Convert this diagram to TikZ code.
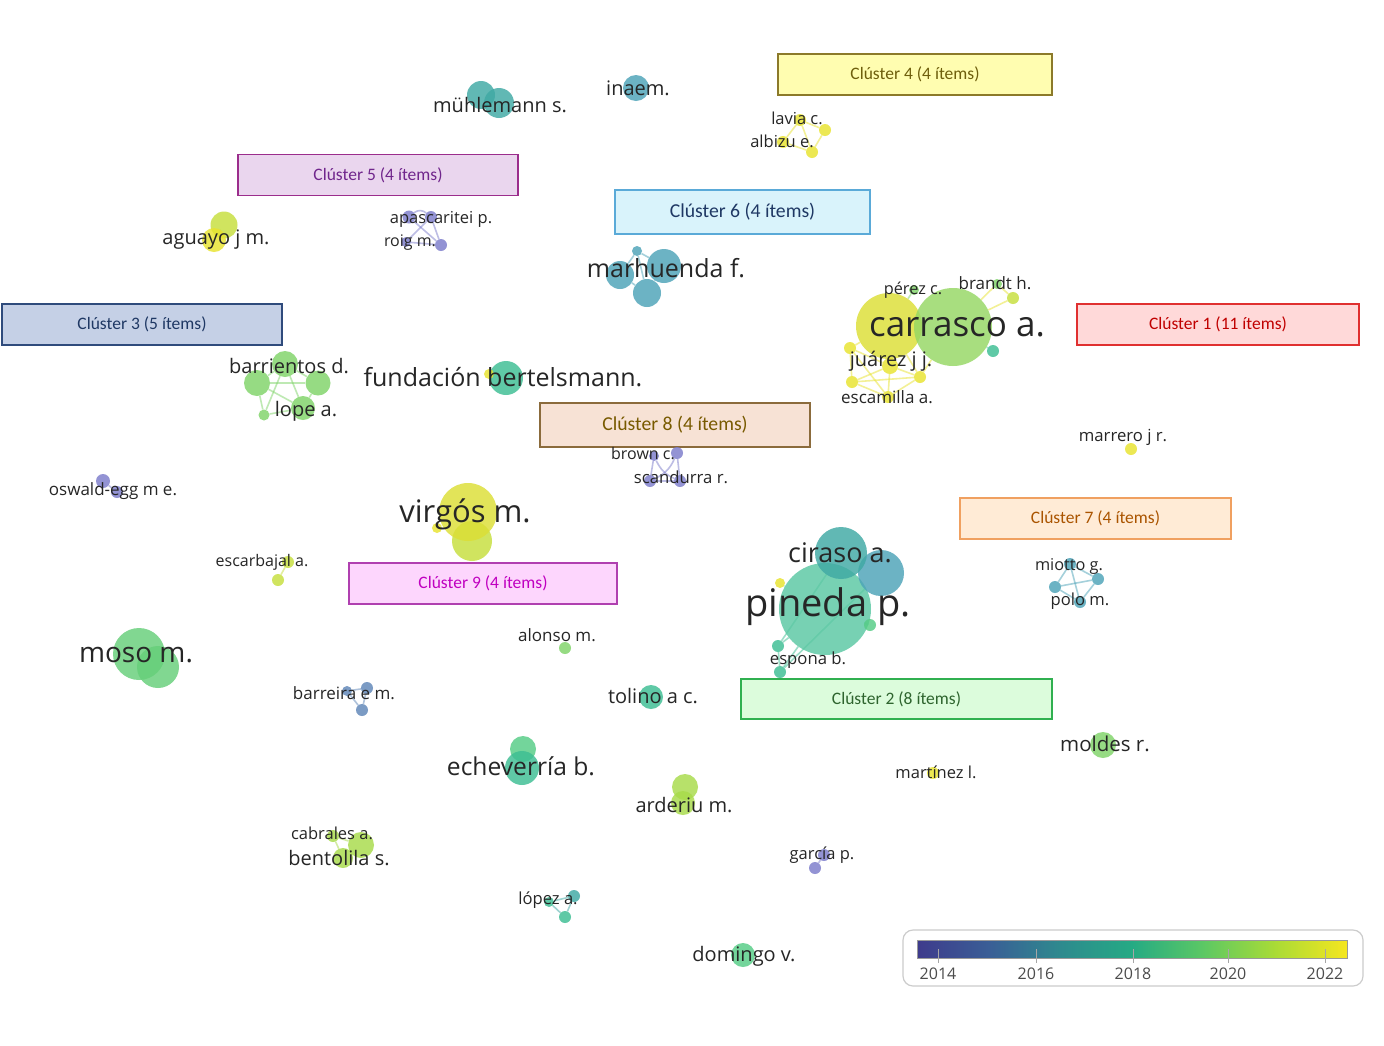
\documentclass[tikz,border=0pt]{standalone}
\usepackage{fontspec}
\setmainfont{Open Sans}
\newfontfamily\calib{Carlito}
\usetikzlibrary{backgrounds}
\definecolor{labc}{HTML}{262626}
\definecolor{cpur}{HTML}{7C7CCB}
\definecolor{cblue}{HTML}{5E86B8}
\definecolor{cteal}{HTML}{4CA3B8}
\definecolor{cteal2}{HTML}{3FA9A4}
\definecolor{cgt}{HTML}{3DBE93}
\definecolor{cg}{HTML}{55CC85}
\definecolor{cgreen}{HTML}{7FD468}
\definecolor{cyg}{HTML}{A8DB4A}
\definecolor{cyg2}{HTML}{C6DF3C}
\definecolor{cyel}{HTML}{E8E32E}
\definecolor{cyelbig}{HTML}{DCDF35}
\definecolor{cgreenbig}{HTML}{95D763}
\definecolor{v0}{HTML}{3E3B8C}
\definecolor{v1}{HTML}{3A5E96}
\definecolor{v2}{HTML}{2E8A8E}
\definecolor{v3}{HTML}{25AA84}
\definecolor{v4}{HTML}{5CC864}
\definecolor{v5}{HTML}{A9DB36}
\definecolor{v6}{HTML}{F5E61F}
\definecolor{k4fill}{HTML}{FFFDB0}
\definecolor{k4draw}{HTML}{8C7A2A}
\definecolor{k4text}{HTML}{6E5E0C}
\tikzset{
  bub/.style={circle,inner sep=0pt,draw=none,fill opacity=0.82,minimum size=#1},
  lab/.style={font=\fontsize{#1}{#1}\selectfont,text=labc,inner sep=0pt},
  edge/.style={draw=#1,line width=1.6pt,draw opacity=0.5},
  cbox/.style={draw,line width=1.2pt,inner sep=0pt,minimum height=41pt,font=\calib\fontsize{17.5}{17.5}\selectfont},
  cboxbig/.style={cbox,font=\calib\fontsize{19.7}{19.7}\selectfont},
  tick/.style={draw=gray!70,line width=1pt},
  yr/.style={font=\fontsize{16}{16}\selectfont,text=black!70,inner sep=0pt}
}
\begin{document}
\begin{tikzpicture}[x=1pt,y=-1pt]
\useasboundingbox (0,0) rectangle (1384,1045);
\begin{scope}[on background layer]
\fill[white] (0,0) rectangle (1384,1045);
\end{scope}

% ---------- cluster boxes ----------
\node[cbox,fill=k4fill,draw=k4draw,text=k4text,minimum width=274pt] (k4) at (915,74.5) {Clúster 4 (4 ítems)};
\node[cbox,fill={rgb,255:red,234;green,214;blue,238},draw={rgb,255:red,155;green,45;blue,140},text={rgb,255:red,112;green,38;blue,140},minimum width=280pt] (k5) at (378,175) {Clúster 5 (4 ítems)};
\node[cboxbig,fill={rgb,255:red,217;green,243;blue,251},draw={rgb,255:red,90;green,170;blue,216},text={rgb,255:red,31;green,56;blue,100},minimum width=255pt,minimum height=44pt] (k6) at (742.5,212) {Clúster 6 (4 ítems)};
\node[cbox,fill={rgb,255:red,197;green,208;blue,230},draw={rgb,255:red,47;green,75;blue,124},text={rgb,255:red,31;green,56;blue,100},minimum width=280pt] (k3) at (142,324.5) {Clúster 3 (5 ítems)};
\node[cbox,fill={rgb,255:red,255;green,217;blue,217},draw={rgb,255:red,224;green,48;blue,48},text={rgb,255:red,192;green,0;blue,0},minimum width=282pt] (k1) at (1218,324.5) {Clúster 1 (11 ítems)};
\node[cboxbig,fill={rgb,255:red,247;green,226;blue,213},draw={rgb,255:red,139;green,107;blue,60},text={rgb,255:red,120;green,90;blue,0},minimum width=270pt,minimum height=44pt] (k8) at (675,425) {Clúster 8 (4 ítems)};
\node[cbox,fill={rgb,255:red,255;green,235;blue,214},draw={rgb,255:red,240;green,160;blue,96},text={rgb,255:red,170;green,84;blue,0},minimum width=271pt] (k7) at (1095.5,518.5) {Clúster 7 (4 ítems)};
\node[cbox,fill={rgb,255:red,253;green,214;blue,253},draw={rgb,255:red,176;green,64;blue,176},text={rgb,255:red,192;green,0;blue,192},minimum width=268pt] (k9) at (483,583.5) {Clúster 9 (4 ítems)};
\node[cbox,fill={rgb,255:red,220;green,252;blue,220},draw={rgb,255:red,48;green,176;blue,80},text={rgb,255:red,46;green,100;blue,46},minimum width=311pt,minimum height=40pt] (k2) at (896.5,699) {Clúster 2 (8 ítems)};

% ---------- bubbles ----------
% mühlemann
\node[bub=28pt,fill=cteal2] (mu1) at (481,95) {};
\node[bub=30pt,fill=cteal2] (mu2) at (499,103) {};
% inaem
\node[bub=26pt,fill=cteal] (in1) at (636,88) {};
% lavia / albizu
\node[bub=12pt,fill=cyel] (la1) at (800,120) {};
\node[bub=12pt,fill=cyel] (la2) at (825,130) {};
\node[bub=12pt,fill=cyel] (la3) at (812,152) {};
\node[bub=12pt,fill=cyel] (la4) at (783,142) {};
% aguayo
\node[bub=27pt,fill=cyg2] (ag1) at (224,225) {};
\node[bub=24pt,fill=cyel] (ag2) at (214,240) {};
% apascaritei / roig
\node[bub=13pt,fill=cpur] (ap1) at (409,217) {};
\node[bub=12pt,fill=cpur] (ap2) at (431,217) {};
\node[bub=12pt,fill=cpur] (ap3) at (441,245) {};
\node[bub=10pt,fill=cpur] (ap4) at (406,242) {};
% marhuenda
\node[bub=10pt,fill=cteal] (ma1) at (637,251) {};
\node[bub=34pt,fill=cteal] (ma2) at (664,266) {};
\node[bub=28pt,fill=cteal] (ma3) at (620,275) {};
\node[bub=28pt,fill=cteal] (ma4) at (647,293) {};
% carrasco cluster
\node[bub=66pt,fill=cyelbig] (ca1) at (889,326) {};
\node[bub=78pt,fill=cgreenbig] (ca2) at (953,327) {};
\node[bub=12pt,fill=cyel] (ca3) at (850,348) {};
\node[bub=12pt,fill=cyel] (ca4) at (852,382) {};
\node[bub=12pt,fill=cyel] (ca5) at (920,377) {};
\node[bub=12pt,fill=cyel] (ca6) at (888,397) {};
\node[bub=16pt,fill=cyel] (ca7) at (890,366) {};
\node[bub=12pt,fill=cyg2] (ca8) at (1013,298) {};
\node[bub=12pt,fill=cgt] (ca9) at (993,351) {};
\node[bub=10pt,fill=cgreen] (ca10) at (997,284) {};
\node[bub=10pt,fill=cgreen] (ca11) at (914,290) {};
% barrientos / lope
\node[bub=26pt,fill=cgreen] (ba1) at (285,364) {};
\node[bub=26pt,fill=cgreen] (ba2) at (257,383) {};
\node[bub=25pt,fill=cgreen] (ba3) at (318,383) {};
\node[bub=24pt,fill=cgreen] (ba4) at (303,408) {};
\node[bub=11pt,fill=cgreen] (ba5) at (264,415) {};
% fundación bertelsmann
\node[bub=34pt,fill=cgt] (fu1) at (506,378) {};
\node[bub=10pt,fill=cyel] (fu2) at (489,374) {};
% brown / scandurra
\node[bub=12pt,fill=cpur] (br1) at (677,453) {};
\node[bub=12pt,fill=cpur] (br2) at (650,481) {};
\node[bub=12pt,fill=cpur] (br3) at (680,481) {};
\node[bub=10pt,fill=cpur] (br4) at (654,456) {};
% marrero
\node[bub=12pt,fill=cyel] (mr1) at (1131,449) {};
% oswald-egg
\node[bub=14pt,fill=cpur] (os1) at (103,481) {};
\node[bub=12pt,fill=cpur] (os2) at (117,492) {};
% virgós
\node[bub=40pt,fill=cyg2] (vi2) at (472,541) {};
\node[bub=58pt,fill=cyelbig] (vi1) at (468,512) {};
\node[bub=10pt,fill=cyel] (vi3) at (437,528) {};
% escarbajal
\node[bub=12pt,fill=cyg2] (es1) at (288,562) {};
\node[bub=12pt,fill=cyg2] (es2) at (278,580) {};
% ciraso / pineda
\node[bub=92pt,fill=cgt!85!white] (pi1) at (825,609) {};
\node[bub=46pt,fill=cteal] (pi3) at (881,573) {};
\node[bub=52pt,fill=cteal2] (pi2) at (841,553) {};
\node[bub=10pt,fill=cyel] (pi4) at (780,583) {};
\node[bub=12pt,fill=cg] (pi5) at (870,625) {};
\node[bub=12pt,fill=cgt] (pi6) at (778,646) {};
\node[bub=12pt,fill=cgt] (pi7) at (780,672) {};
% miotto / polo
\node[bub=12pt,fill=cteal] (mi1) at (1070,564) {};
\node[bub=12pt,fill=cteal] (mi2) at (1098,579) {};
\node[bub=12pt,fill=cteal] (mi3) at (1055,587) {};
\node[bub=12pt,fill=cteal] (mi4) at (1080,602) {};
% moso
\node[bub=52pt,fill=cg!60!cgreen] (mo1) at (139,654) {};
\node[bub=42pt,fill=cg!60!cgreen] (mo2) at (158,667) {};
% alonso
\node[bub=12pt,fill=cgreen] (al1) at (565,648) {};
% barreira
\node[bub=12pt,fill=cblue] (be1) at (367,688) {};
\node[bub=12pt,fill=cblue] (be2) at (362,710) {};
\node[bub=10pt,fill=cblue] (be3) at (347,691) {};
% tolino
\node[bub=24pt,fill=cgt] (to1) at (651,697) {};
% echeverría
\node[bub=26pt,fill=cg] (ec1) at (523,749) {};
\node[bub=34pt,fill=cgt] (ec2) at (522,768) {};
% arderiu
\node[bub=26pt,fill=cyg] (ar1) at (685,787) {};
\node[bub=24pt,fill=cyg] (ar2) at (683,803) {};
% martínez
\node[bub=12pt,fill=cyel] (mt1) at (933,773) {};
% moldes
\node[bub=26pt,fill=cgreen] (md1) at (1103,745) {};
% cabrales / bentolila
\node[bub=26pt,fill=cyg] (cb1) at (361,845) {};
\node[bub=12pt,fill=cyg] (cb2) at (333,836) {};
\node[bub=20pt,fill=cyg] (cb3) at (343,858) {};
% garcía
\node[bub=12pt,fill=cpur] (ga1) at (824,855) {};
\node[bub=12pt,fill=cpur] (ga2) at (815,868) {};
% lópez
\node[bub=12pt,fill=cteal2] (lo1) at (574,896) {};
\node[bub=12pt,fill=cgt] (lo2) at (565,917) {};
\node[bub=10pt,fill=cgt] (lo3) at (549,902) {};
% domingo
\node[bub=24pt,fill=cg] (do1) at (743,955) {};

% ---------- edges ----------
\begin{scope}[on background layer]
\draw[edge=cyel] (la1) -- (la2) -- (la3) -- (la4) -- (la1);
\draw[edge=cyel] (la1) -- (la3);
\draw[edge=cyg2] (ag1) -- (ag2);
\draw[edge=cpur] (ap1) -- (ap3);
\draw[edge=cpur] (ap2) -- (ap4);
\draw[edge=cpur] (ap1) to[bend left=40] (ap2);
\draw[edge=cpur] (ap2) -- (ap3);
\draw[edge=cpur] (ap4) -- (ap3);
\draw[edge=cteal] (ma1) -- (ma2);
\draw[edge=cteal] (ma1) -- (ma3);
\draw[edge=cteal] (ma1) -- (ma4);
\draw[edge=cteal] (ma3) -- (ma4);
\draw[edge=cteal] (ma2) -- (ma4);
\draw[edge=cyel] (ca3) -- (ca7);
\draw[edge=cyel] (ca4) -- (ca7);
\draw[edge=cyel] (ca5) -- (ca7);
\draw[edge=cyel] (ca6) -- (ca7);
\draw[edge=cyel] (ca3) -- (ca4) -- (ca6) -- (ca5);
\draw[edge=cyel] (ca3) -- (ca6);
\draw[edge=cyel] (ca4) -- (ca5);
\draw[edge=cyel] (ca1) -- (ca7);
\draw[edge=cyel] (ca1) -- (ca3);
\draw[edge=cyel] (ca1) -- (ca5);
\draw[edge=cyel] (ca2) -- (ca5);
\draw[edge=cyel] (ca2) -- (ca8);
\draw[edge=cyel] (ca2) -- (ca10);
\draw[edge=cyel] (ca10) -- (ca8);
\draw[edge=cgt] (ca2) -- (ca9);
\draw[edge=cgreen] (ca1) -- (ca11);
\draw[edge=cgreen] (ba1) -- (ba2) -- (ba4) -- (ba3) -- (ba1);
\draw[edge=cgreen] (ba2) -- (ba3);
\draw[edge=cgreen] (ba1) -- (ba4);
\draw[edge=cgreen] (ba5) -- (ba2);
\draw[edge=cgreen] (ba5) -- (ba1);
\draw[edge=cgreen] (ba5) -- (ba4);
\draw[edge=cgt] (fu1) -- (fu2);
\draw[edge=cpur] (br1) to[bend left=20] (br2);
\draw[edge=cpur] (br1) -- (br3);
\draw[edge=cpur] (br4) to[bend right=20] (br3);
\draw[edge=cpur] (br2) -- (br3);
\draw[edge=cpur] (br4) -- (br2);
\draw[edge=cpur] (os1) -- (os2);
\draw[edge=cyel] (vi1) -- (vi3);
\draw[edge=cyg2] (es1) -- (es2);
\draw[edge=cgt] (pi1) -- (pi4);
\draw[edge=cgt] (pi1) -- (pi5);
\draw[edge=cgt] (pi1) -- (pi6);
\draw[edge=cgt] (pi1) -- (pi7);
\draw[edge=cgt] (pi6) -- (pi7);
\draw[edge=cgt] (pi2) -- (pi6);
\draw[edge=cgt] (pi3) -- (pi7);
\draw[edge=cteal] (mi1) -- (mi2) -- (mi4) -- (mi3) -- (mi1);
\draw[edge=cteal] (mi1) -- (mi4);
\draw[edge=cteal] (mi3) -- (mi2);
\draw[edge=cblue] (be1) -- (be2) -- (be3) -- (be1);
\draw[edge=cyg] (cb1) -- (cb2);
\draw[edge=cyg] (cb2) -- (cb3);
\draw[edge=cpur] (ga1) -- (ga2);
\draw[edge=cteal2] (lo1) -- (lo2) -- (lo3) -- (lo1);
\end{scope}

% ---------- labels ----------
\node[lab=20] (t-mu) at (500,105) {mühlemann s.};
\node[lab=20] (t-in) at (638,88) {inaem.};
\node[lab=16.5] (t-la) at (797,118) {lavia c.};
\node[lab=16.5] (t-al) at (782,141) {albizu e.};
\node[lab=20] (t-ag) at (216,240) {aguayo j m.};
\node[lab=16.5] (t-ap) at (441,219) {apascaritei p.};
\node[lab=16] (t-ro) at (410,243) {roig m.};
\node[lab=25] (t-ma) at (666,268) {marhuenda f.};
\node[lab=16.3] (t-pe) at (913,290) {pérez c.};
\node[lab=17] (t-bh) at (995,283) {brandt h.};
\node[lab=35] (t-ca) at (957,327) {carrasco a.};
\node[lab=20] (t-ju) at (891,361) {juárez j j.};
\node[lab=17] (t-es) at (887,397) {escamilla a.};
\node[lab=20] (t-ba) at (289,366) {barrientos d.};
\node[lab=20] (t-lo) at (306,411) {lope a.};
\node[lab=25] (t-fu) at (503,377) {fundación bertelsmann.};
\node[lab=16] (t-br) at (643,454) {brown c.};
\node[lab=16.7] (t-sc) at (681,477) {scandurra r.};
\node[lab=16.7] (t-mr) at (1123,437) {marrero j r.};
\node[lab=17] (t-os) at (113,491) {oswald-egg m e.};
\node[lab=31] (t-vi) at (465,514) {virgós m.};
\node[lab=16] (t-eb) at (262,562) {escarbajal a.};
\node[lab=27] (t-ci) at (840,553) {ciraso a.};
\node[lab=38] (t-pi) at (828,607) {pineda p.};
\node[lab=16.7] (t-sp) at (808,660) {espona b.};
\node[lab=16.3] (t-mi) at (1069,566) {miotto g.};
\node[lab=16.6] (t-po) at (1080,601) {polo m.};
\node[lab=28] (t-mo) at (136,655) {moso m.};
\node[lab=17] (t-ao) at (557,635) {alonso m.};
\node[lab=17] (t-be) at (344,693) {barreira e m.};
\node[lab=20] (t-to) at (653,696) {tolino a c.};
\node[lab=24.6] (t-ec) at (521,766) {echeverría b.};
\node[lab=20] (t-ar) at (684,805) {arderiu m.};
\node[lab=16.5] (t-mt) at (936,772) {martínez l.};
\node[lab=20.5] (t-md) at (1105,744) {moldes r.};
\node[lab=16.5] (t-cb) at (332,833) {cabrales a.};
\node[lab=20] (t-bt) at (339,858) {bentolila s.};
\node[lab=16.5] (t-ga) at (822,855) {garcía p.};
\node[lab=16.6] (t-lp) at (548,900) {lópez a.};
\node[lab=20] (t-do) at (744,956) {domingo v.};

% ---------- legend ----------
\node[draw=gray!40,line width=1.2pt,rounded corners=10pt,minimum width=460pt,minimum height=56pt,inner sep=0pt] (leg) at (1133,958) {};
\shade[left color=v0,right color=v1] (917,940) rectangle (989,958);
\shade[left color=v1,right color=v2] (988.5,940) rectangle (1060.5,958);
\shade[left color=v2,right color=v3] (1060,940) rectangle (1132,958);
\shade[left color=v3,right color=v4] (1131.5,940) rectangle (1203.5,958);
\shade[left color=v4,right color=v5] (1203,940) rectangle (1275,958);
\shade[left color=v5,right color=v6] (1274.5,940) rectangle (1347,958);
\draw[gray!80,line width=1pt] (917,940) rectangle (1347,958);
\foreach \x/\y in {938/2014,1036/2016,1133/2018,1228/2020,1325/2022}{
  \draw[tick] (\x,949) -- (\x,963);
  \node[yr] at (\x,974) {\y};
}
\end{tikzpicture}
\end{document}
